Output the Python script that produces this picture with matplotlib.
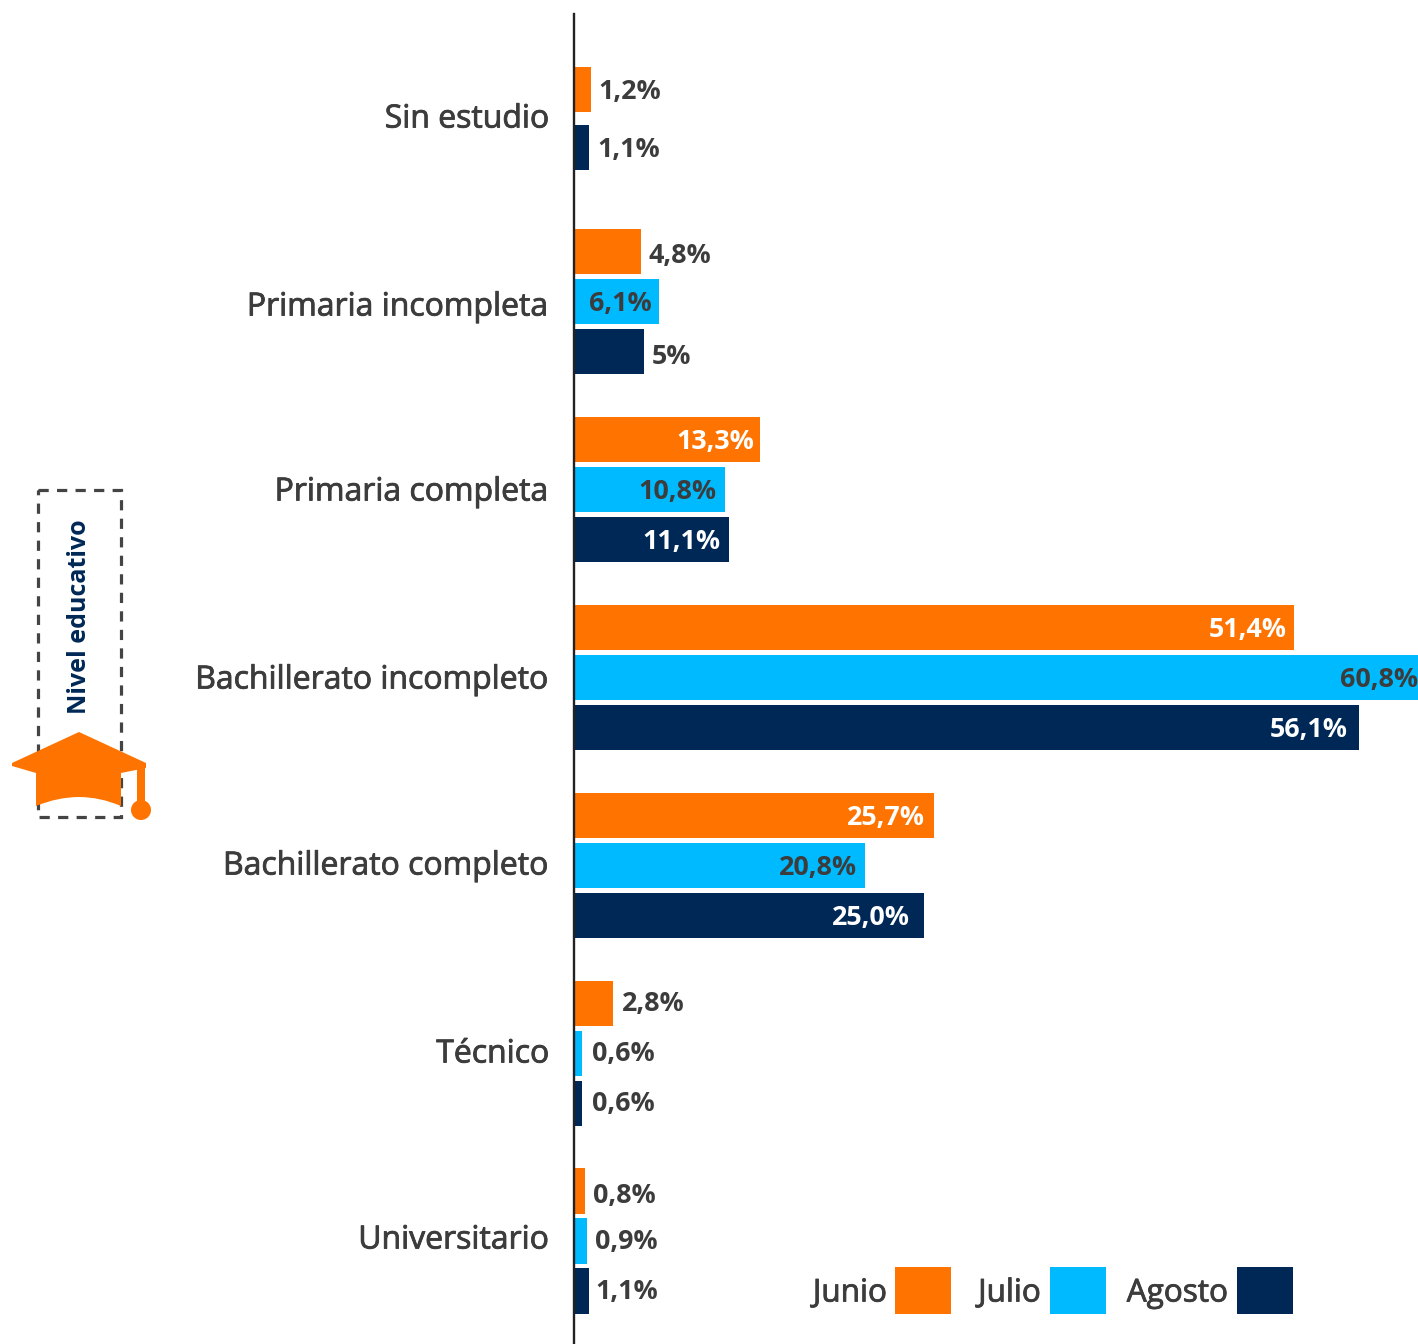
import matplotlib
matplotlib.use('Agg')
import matplotlib.pyplot as plt
import matplotlib.patheffects as pe
from matplotlib.patches import Circle, PathPatch, Rectangle
from matplotlib.path import Path

plt.rcParams['font.family'] = ['Open Sans', 'DejaVu Sans']

categories = ['Sin estudio', 'Primaria incompleta', 'Primaria completa', 'Bachillerato incompleto',
              'Bachillerato completo', 'Técnico', 'Universitario']
junio = [1.2, 4.8, 13.3, 51.4, 25.7, 2.8, 0.8]
julio = [None, 6.1, 10.8, 60.8, 20.8, 0.6, 0.9]
agosto = [1.1, 5.0, 11.1, 56.1, 25.0, 0.6, 1.1]
junio_txt = ['1,2%', '4,8%', '13,3%', '51,4%', '25,7%', '2,8%', '0,8%']
julio_txt = [None, '6,1%', '10,8%', '60,8%', '20,8%', '0,6%', '0,9%']
agosto_txt = ['1,1%', '5%', '11,1%', '56,1%', '25,0%', '0,6%', '1,1%']

ORANGE = '#ff7300'
CYAN = '#00baff'
NAVY = '#002856'
DARK = '#3c3c3c'

W, H = 1418, 1344
PX = 14.0  # pixels per percent point
AX0 = 574

fig = plt.figure(figsize=(W/100, H/100), dpi=100)

# pixel overlay for everything that is not a bar
bg = fig.add_axes([0, 0, 1, 1], xlim=(0, W), ylim=(H, 0))
bg.axis('off')

ax = fig.add_axes([AX0/W, 0, (W-AX0)/W, 1], xlim=(0, (W-AX0)/PX), ylim=(H, 0))
ax.patch.set_alpha(0)
ax.axis('off')
ax.plot([0, 0], [14, H], color='#222222', lw=1.7, clip_on=False)

# rows, top to bottom
centers = [118, 301.5, 489.5, 677.5, 865.5, 1053.5, 1241]
offsets = {'junio': -50, 'julio': 0, 'agosto': 50}
label_y = [119, 307, 492, 680, 866, 1054, 1240]
inside_pad = {'13,3%': 6, '10,8%': 9, '11,1%': 9, '51,4%': 7, '60,8%': 8, '56,1%': 12,
              '25,7%': 9, '20,8%': 9, '25,0%': 15, '6,1%': 8}
inside_white = ['13,3%', '11,1%', '51,4%', '56,1%', '25,7%', '25,0%']
# hand placement of the labels outside the bars: (dx, dy) in pixels
nudge = {('junio', 0): (0, 3), ('agosto', 0): (0, 2), ('junio', 1): (0, 5), ('agosto', 1): (0, 5),
         ('junio', 5): (1, 0), ('julio', 5): (2, 0), ('agosto', 5): (2, 0),
         ('junio', 6): (0, 5), ('julio', 6): (1, 1), ('agosto', 6): (-2, 1)}


def draw_series(vals, txts, color, key):
    for i, (v, t) in enumerate(zip(vals, txts)):
        if v is None:
            continue
        off = offsets[key]
        if i == 0:
            off = {'junio': -28.5, 'agosto': 29.5}[key]
        y = centers[i] + off
        ax.barh(y, v, height=45.5, color=color, edgecolor='none')
        if t in inside_pad:
            c = 'white' if t in inside_white else DARK
            ax.text(v - (inside_pad[t] - 0.5)/PX, y + 2, t, ha='right', va='center', color=c,
                    fontsize=19.4, fontweight='bold', clip_on=False)
        else:
            dx, dy = nudge.get((key, i), (0, 0))
            ax.text(v + (7.5 + dx)/PX, y + dy, t, ha='left', va='center', color=DARK,
                    fontsize=19.4, fontweight='bold')


draw_series(junio, junio_txt, ORANGE, 'junio')
draw_series(julio, julio_txt, CYAN, 'julio')
draw_series(agosto, agosto_txt, NAVY, 'agosto')

thick = [pe.withStroke(linewidth=0.6, foreground=DARK)]
for name, y in zip(categories, label_y):
    bg.text(549.5, y, name, ha='right', va='center', fontsize=23, color=DARK, path_effects=thick)

# legend
for name, x_txt, x_box, col in [('Junio', 887, 895, ORANGE), ('Julio', 1041, 1050, CYAN), ('Agosto', 1228, 1237, NAVY)]:
    bg.text(x_txt, 1293, name, ha='right', va='center', fontsize=22.7, color=DARK, path_effects=thick)
    bg.add_patch(Rectangle((x_box, 1267), 56, 47, color=col, lw=0))

# dashed box and cap icon
bg.add_patch(Rectangle((38, 490), 83, 327, fill=False, ec='#444444', lw=2.3, ls=(0, (3.2, 2.6))))
bg.text(79, 617, 'Nivel educativo', rotation=90, ha='center', va='center', color=NAVY,
        fontsize=18, fontweight='bold')
cap = Path([(79, 732), (146, 763), (146, 768), (121, 773), (121, 806), (100, 797), (79, 797), (58, 797),
            (36, 806), (36, 773), (12, 766), (12, 763), (79, 732)],
           [Path.MOVETO, Path.LINETO, Path.LINETO, Path.LINETO, Path.LINETO, Path.CURVE3, Path.CURVE3,
            Path.CURVE3, Path.CURVE3, Path.LINETO, Path.LINETO, Path.LINETO, Path.CLOSEPOLY])
bg.add_patch(PathPatch(cap, fc=ORANGE, ec='none', zorder=3))
bg.add_patch(Rectangle((137, 764), 8, 42, fc=ORANGE, ec='none', zorder=3))
bg.add_patch(Circle((141, 810), 10, fc=ORANGE, ec='none', zorder=3))

fig.savefig('out.png', dpi=100)
